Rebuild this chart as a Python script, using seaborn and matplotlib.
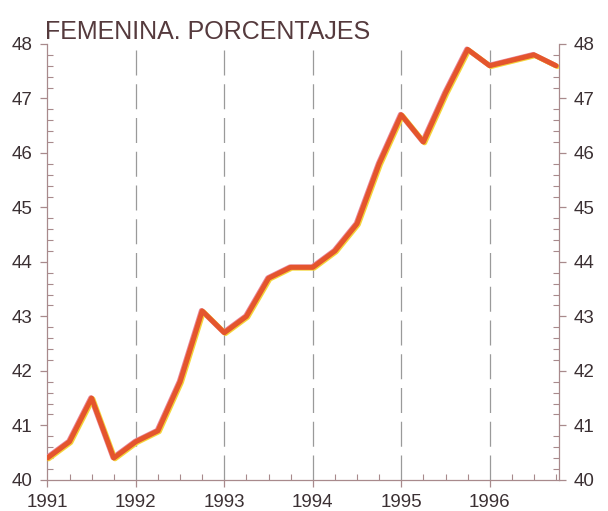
import matplotlib
matplotlib.use("Agg")
import matplotlib.pyplot as plt
import matplotlib.patheffects as pe
from matplotlib.ticker import MultipleLocator
import seaborn as sns
import pandas as pd

# Quarterly share of women (%), 1991 Q1 - 1996 Q4
periods = [1991.0, 1991.25, 1991.5, 1991.75,
           1992.0, 1992.25, 1992.5, 1992.75,
           1993.0, 1993.25, 1993.5, 1993.75,
           1994.0, 1994.25, 1994.5, 1994.75,
           1995.0, 1995.25, 1995.5, 1995.75,
           1996.0, 1996.25, 1996.5, 1996.75]
femenina = [40.4, 40.7, 41.5, 40.4,
            40.7, 40.9, 41.8, 43.1,
            42.7, 43.0, 43.7, 43.9,
            43.9, 44.2, 44.7, 45.8,
            46.7, 46.2, 47.1, 47.9,
            47.6, 47.7, 47.8, 47.6]
years = [1991, 1992, 1993, 1994, 1995, 1996]
y_ticks = [40, 41, 42, 43, 44, 45, 46, 47, 48]
title = "FEMENINA. PORCENTAJES"

df = pd.DataFrame({"periodo": periods, "femenina": femenina})

sns.set_theme(style="white")
plt.rcParams["font.family"] = ["Liberation Sans", "DejaVu Sans"]

axis_col = "#a88a8c"
text_col = "#3b3033"

fig = plt.figure(figsize=(6.08, 5.11), dpi=100)
ax = fig.add_axes([0.078, 0.061, 0.841, 0.853])

# dashed year separators
for yr in years[1:]:
    ax.axvline(yr, color="#9a9a9a", lw=0.9, ls=(0, (20, 7)), zorder=1)

sns.lineplot(data=df, x="periodo", y="femenina", ax=ax,
             color="#e4552d", lw=3.6, zorder=3,
             path_effects=[
                 pe.SimpleLineShadow(offset=(-0.6, 0.3), shadow_color="#e8849a", alpha=1, rho=1),
                 pe.SimpleLineShadow(offset=(0.9, -0.6), shadow_color="#f4d43a", alpha=1, rho=1),
                 pe.Normal()])

ax.set_xlim(1991, 1996.78)
ax.set_ylim(40, 48)
ax.set_xticks(years)
ax.set_xticklabels([str(y) for y in years])
ax.set_yticks(y_ticks)
ax.xaxis.set_minor_locator(MultipleLocator(0.25))
ax.yaxis.set_minor_locator(MultipleLocator(0.2))
ax.set_xlabel("")
ax.set_ylabel("")

for side in ["left", "right", "bottom"]:
    ax.spines[side].set_visible(True)
    ax.spines[side].set_color(axis_col)
    ax.spines[side].set_linewidth(0.9)
ax.spines["top"].set_visible(False)

ax.tick_params(which="major", axis="both", direction="out", length=5, width=0.9,
               color=axis_col, labelsize=13.5, labelcolor=text_col)
ax.tick_params(which="minor", axis="both", direction="in", length=4, width=0.8,
               color=axis_col)
ax.tick_params(axis="y", which="both", left=True, right=True, labelleft=True, labelright=True, pad=6)
ax.tick_params(axis="x", which="both", bottom=True, top=False, pad=5)

fig.text(0.074, 0.924, title, fontsize=18, color="#553a3d", ha="left", va="baseline")

fig.savefig("out.png", dpi=100, facecolor="white")
